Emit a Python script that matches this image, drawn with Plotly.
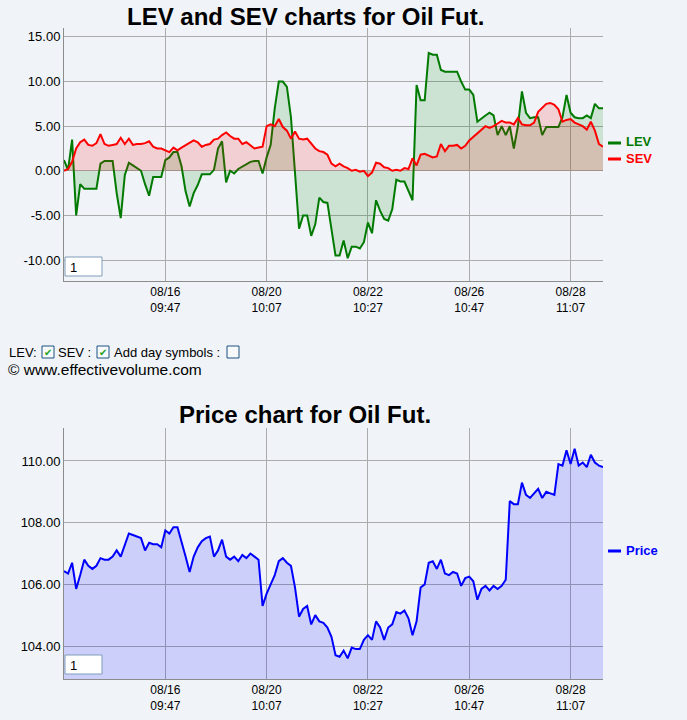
import plotly.graph_objects as go

W, H = 687, 720

# ---- data (sample index along the time axis) ----
lev = [
    1.2, 0.1, 3.5, -5.0, -1.5, -2.0, -2.0, -2.0, -2.0, 0.8,
    1.1, 1.1, 1.1, -2.5, -5.3, -0.5, 0.9, 0.6, 0.3, 0.0,
    -1.5, -2.8, -0.7, -0.7, -0.7, 1.2, 1.5, 2.1, 2.1, 0.5,
    -2.3, -4.0, -2.5, -1.6, -0.4, -0.4, -0.4, 0.1, 2.5, 3.3,
    -1.3, 0.0, -0.3, 0.2, 0.5, 0.8, 1.0, 1.1, 1.1, -0.3,
    1.5, 2.9, 7.0, 10.0, 10.0, 9.4, 6.0, -0.2, -6.5, -5.0,
    -5.0, -7.3, -6.0, -3.0, -3.5, -3.6, -6.5, -9.5, -9.5, -7.8,
    -9.8, -8.5, -8.5, -8.7, -8.0, -5.8, -7.0, -3.3, -4.5, -5.4,
    -5.6, -4.3, -1.0, -1.2, -1.2, -2.3, -3.3, 9.6, 7.9, 7.9,
    13.2, 13.0, 13.0, 11.3, 11.1, 11.1, 11.1, 11.1, 10.0, 9.1,
    9.1, 8.5, 5.5, 5.9, 6.2, 6.5, 6.2, 4.0, 5.0, 4.0,
    5.0, 2.5, 5.0, 8.9, 6.5, 5.9, 6.0, 6.0, 4.0, 4.9,
    4.9, 4.9, 4.9, 6.0, 8.5, 6.5, 6.0, 5.9, 5.9, 6.2,
    5.9, 7.5, 7.0, 7.0,
]
sev = [
    0.0, 0.2, 1.0, 2.5, 3.2, 3.5, 2.9, 2.8, 3.1, 4.1,
    3.0, 2.8, 2.9, 3.0, 3.7, 3.0, 3.6, 2.9, 3.0, 3.0,
    3.1, 3.3, 2.7, 2.5, 2.5, 2.3, 2.1, 2.6, 2.3, 2.6,
    2.9, 3.1, 3.4, 3.2, 2.7, 2.9, 3.0, 3.5, 3.6, 4.0,
    4.3, 3.9, 3.6, 3.6, 3.0, 3.2, 2.9, 2.5, 2.6, 2.7,
    5.0, 5.2, 5.0, 5.8, 4.9, 4.5, 3.6, 4.4, 3.6, 3.5,
    3.6, 3.0, 2.5, 2.2, 2.1, 1.8, 0.8, 0.5, 0.8, 0.5,
    0.3, 0.0, 0.1, -0.1, 0.0, -0.6, -0.2, 0.9, 0.8, 0.4,
    0.3, 0.0, 0.1, 0.0, 0.3, 0.2, 1.4, 0.6, 1.8, 1.9,
    1.7, 1.5, 1.6, 3.0, 2.2, 2.8, 2.8, 2.9, 2.5, 2.8,
    3.4, 3.8, 4.1, 4.5, 5.0, 4.8, 5.0, 5.3, 5.6, 5.4,
    5.4, 5.2, 5.9, 5.2, 5.1, 5.1, 5.4, 6.6, 7.1, 7.5,
    7.6, 7.4, 6.9, 5.5, 5.7, 5.8, 5.4, 5.2, 5.0, 4.6,
    5.5, 4.5, 3.0, 2.7,
]
price = [
    106.43, 106.35, 106.7, 105.85, 106.3, 106.8, 106.6, 106.5, 106.6, 106.85,
    106.8, 106.8, 106.9, 107.1, 106.9, 107.3, 107.65, 107.6, 107.55, 107.5,
    107.1, 107.35, 107.3, 107.3, 107.2, 107.75, 107.65, 107.85, 107.85, 107.4,
    106.9, 106.4, 106.9, 107.2, 107.4, 107.5, 107.55, 106.9, 107.1, 107.45,
    106.9, 106.8, 106.9, 106.75, 106.95, 106.85, 107.0, 106.9, 106.8, 105.3,
    105.7, 106.0, 106.3, 106.75, 106.85, 106.7, 106.6, 105.9, 104.95, 105.2,
    105.3, 104.7, 105.0, 104.8, 104.75, 104.6, 104.3, 103.7, 103.65, 103.85,
    103.6, 103.95, 103.9, 103.9, 104.2, 104.35, 104.2, 104.8, 104.6, 104.2,
    104.6, 104.7, 105.1, 105.05, 105.15, 104.9, 104.35, 104.8, 105.9, 106.0,
    106.7, 106.75, 106.5, 106.8, 106.35, 106.3, 106.4, 106.35, 105.95, 106.2,
    106.25, 106.1, 105.5, 105.85, 105.95, 105.8, 105.95, 105.85, 105.95, 106.15,
    108.7, 108.6, 108.6, 109.3, 108.9, 108.8, 108.95, 109.1, 108.8, 109.0,
    108.95, 108.9, 109.9, 109.85, 110.35, 109.9, 110.4, 109.85, 109.95, 109.8,
    110.2, 109.95, 109.85, 109.8,
]
idx = list(range(len(lev)))

tick_idx = [25, 50, 75, 100, 125]
tick_text = ["08/16<br>09:47", "08/20<br>10:07", "08/22<br>10:27",
             "08/26<br>10:47", "08/28<br>11:07"]
lev_ticks = [15, 10, 5, 0, -5, -10]
price_ticks = [110, 108, 106, 104]


def px(x):
    return x / W


def py(y):
    return 1 - y / H


BG = "#f0f4f8"
GRID = "#ababab"
AXL = "#8c8c8c"
FONT = "Liberation Sans, Arial, sans-serif"

fig = go.Figure()
fig.add_trace(go.Scatter(x=idx, y=lev, mode="lines", name="LEV",
                         line=dict(color="#007a00", width=2),
                         fill="tozeroy", fillcolor="rgba(0,128,0,0.15)",
                         xaxis="x", yaxis="y"))
fig.add_trace(go.Scatter(x=idx, y=sev, mode="lines", name="SEV",
                         line=dict(color="#ff0000", width=2),
                         fill="tozeroy", fillcolor="rgba(255,0,0,0.15)",
                         xaxis="x", yaxis="y"))
fig.add_trace(go.Scatter(x=idx, y=price, mode="lines", name="Price",
                         line=dict(color="#0000ff", width=2),
                         fill="tozeroy", fillcolor="rgba(0,0,255,0.15)",
                         xaxis="x2", yaxis="y2"))

xcommon = dict(range=[0, len(lev) - 1], tickvals=tick_idx, ticktext=tick_text,
               showgrid=True, gridcolor=GRID, gridwidth=1, zeroline=False,
               showline=True, linecolor=AXL, linewidth=1, ticks="",
               tickfont=dict(family=FONT, size=12, color="#000"), fixedrange=True)
ycommon = dict(showgrid=True, gridcolor=GRID, gridwidth=1, zeroline=False,
               showline=True, linecolor=AXL, linewidth=1, ticks="",
               tickfont=dict(family=FONT, size=13, color="#000"), fixedrange=True)

fig.update_layout(
    width=W, height=H, autosize=False,
    margin=dict(l=0, r=0, t=0, b=0, pad=0),
    paper_bgcolor=BG, plot_bgcolor=BG, showlegend=False,
    xaxis=dict(domain=[px(64), px(603)], anchor="y", **xcommon),
    yaxis=dict(domain=[py(281), py(28)], anchor="x", range=[-12.35, 16.0],
               tickvals=lev_ticks, ticktext=[f"{v:.2f}" for v in lev_ticks], **ycommon),
    xaxis2=dict(domain=[px(64), px(603)], anchor="y2", **xcommon),
    yaxis2=dict(domain=[py(679), py(428)], anchor="x2", range=[102.93, 111.07],
                tickvals=price_ticks, ticktext=[f"{v:.2f}" for v in price_ticks], **ycommon),
)

ann = []
shapes = []

# titles
ann.append(dict(text="<b>LEV and SEV charts for Oil Fut.</b>", x=px(305), y=py(16),
                xref="paper", yref="paper", showarrow=False, xanchor="center", yanchor="middle",
                font=dict(family=FONT, size=24, color="#000")))
ann.append(dict(text="<b>Price chart for Oil Fut.</b>", x=px(305), y=py(415),
                xref="paper", yref="paper", showarrow=False, xanchor="center", yanchor="middle",
                font=dict(family=FONT, size=24, color="#000")))

# legends
for label, color, yc in [("LEV", "#007a00", 142), ("SEV", "#ff0000", 158), ("Price", "#0000ff", 550)]:
    shapes.append(dict(type="line", xref="paper", yref="paper", x0=px(608), x1=px(621),
                       y0=py(yc + 1), y1=py(yc + 1), line=dict(color=color, width=3)))
    ann.append(dict(text=f"<b>{label}</b>", x=px(624), y=py(yc), xref="paper", yref="paper",
                    showarrow=False, xanchor="left", yanchor="middle",
                    font=dict(family=FONT, size=13, color=color)))

# input boxes
for (y0, y1) in [(257, 276), (655, 674)]:
    shapes.append(dict(type="rect", xref="paper", yref="paper", x0=px(65), x1=px(102),
                       y0=py(y1), y1=py(y0), fillcolor="#ffffff",
                       line=dict(color="#7f9db9", width=1), layer="above"))
    ann.append(dict(text="1", x=px(68), y=py((y0 + y1) / 2 + 1), xref="paper", yref="paper",
                    showarrow=False, xanchor="left", yanchor="middle",
                    font=dict(family=FONT, size=13, color="#000")))

# control row
ctrl_font = dict(family=FONT, size=13, color="#000")
for txt, x in [("LEV:", 7), ("SEV :", 56), ("Add day symbols :", 112)]:
    ann.append(dict(text=txt, x=px(x), y=py(352), xref="paper", yref="paper",
                    showarrow=False, xanchor="left", yanchor="middle", font=ctrl_font))
for x0, checked in [(42, True), (97, True), (227, False)]:
    shapes.append(dict(type="rect", xref="paper", yref="paper", x0=px(x0), x1=px(x0 + 12),
                       y0=py(358), y1=py(346), fillcolor="#f7f9fb",
                       line=dict(color="#1c5180", width=1)))
    if checked:
        ann.append(dict(text="✔", x=px(x0 + 6), y=py(352), xref="paper", yref="paper",
                        showarrow=False, xanchor="center", yanchor="middle",
                        font=dict(family="DejaVu Sans", size=10, color="#21a121")))
ann.append(dict(text="© www.effectivevolume.com", x=px(6), y=py(370), xref="paper", yref="paper",
                showarrow=False, xanchor="left", yanchor="middle",
                font=dict(family=FONT, size=15.5, color="#000")))

fig.update_layout(annotations=ann, shapes=shapes)
fig.write_html("out.html", config={"displayModeBar": False},
               post_script="document.body.style.margin='0';"
                           "document.body.style.background='#f0f4f8';")
